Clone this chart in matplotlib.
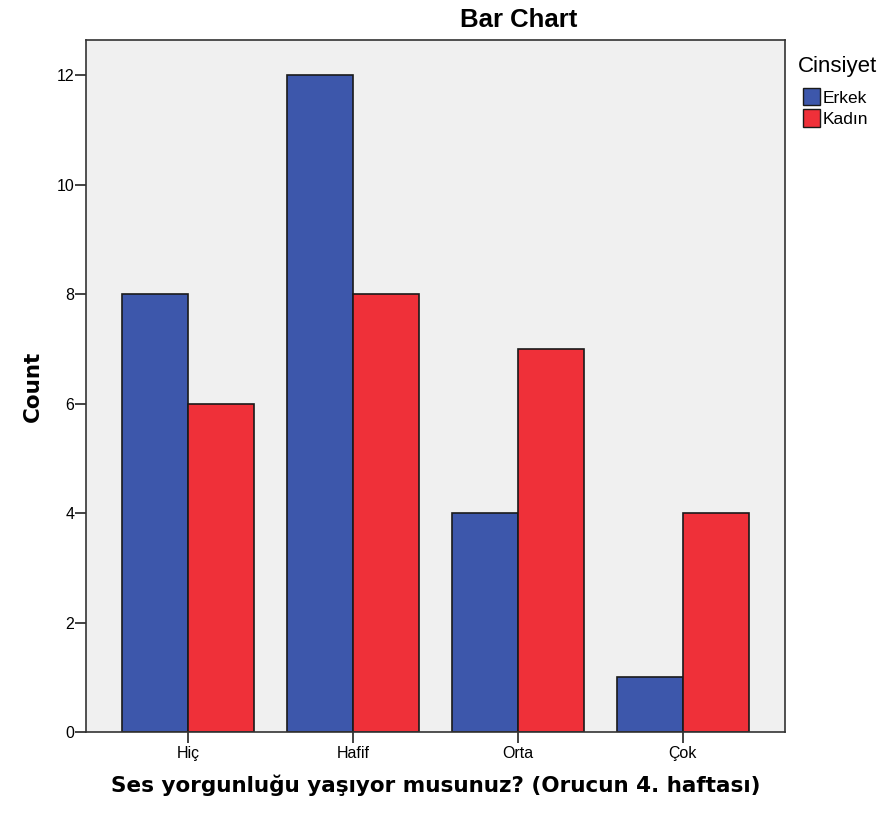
import matplotlib
matplotlib.use("Agg")
import matplotlib.pyplot as plt
import numpy as np
from matplotlib.patches import Rectangle

plt.rcParams['font.family'] = ['Liberation Sans', 'DejaVu Sans']

categories = ["Hiç", "Hafif", "Orta", "Çok"]
erkek = [8, 12, 4, 1]
kadin = [6, 8, 7, 4]
series_names = ["Erkek", "Kadın"]
yticks = [0, 2, 4, 6, 8, 10, 12]

blue = "#3D57AB"
red = "#EF3039"
edge = "#1a1a1a"

fig = plt.figure(figsize=(8.81, 8.17), dpi=100)
ax = fig.add_axes([0.0976, 0.104, 0.7934, 0.847])
ax.set_facecolor("#F0F0F0")

x = np.arange(len(categories))
w = 0.4
ax.bar(x - w / 2, erkek, width=w, color=blue, edgecolor=edge, linewidth=1.2, zorder=2)
ax.bar(x + w / 2, kadin, width=w, color=red, edgecolor=edge, linewidth=1.2, zorder=2)

ax.set_xlim(-0.62, 3.62)
ax.set_ylim(0, 12.64)
ax.set_xticks(x)
ax.set_xticklabels(categories, fontsize=11.5)
ax.set_yticks(yticks)
ax.set_yticklabels([str(v) for v in yticks], fontsize=11.5)
ax.tick_params(axis="y", direction="out", length=8, width=1.2, color="#222222", pad=0.5)
ax.tick_params(axis="x", direction="out", length=8, width=1.2, color="#222222", pad=2)

for s in ax.spines.values():
    s.set_color("#333333")
    s.set_linewidth(1.2)

# chart title
fig.text(0.589, 0.967, "Bar Chart", fontsize=18.5, fontweight="bold",
         ha="center", va="baseline")

ax.set_xlabel("Ses yorgunluğu yaşıyor musunuz? (Orucun 4. haftası)", fontsize=15.5,
              fontweight="bold", family="DejaVu Sans", labelpad=10)
ax.set_ylabel("Count", fontsize=15.5, fontweight="bold", family="DejaVu Sans", labelpad=10)

# legend drawn beside the plot
fig.text(0.9058, 0.9119, "Cinsiyet", fontsize=16, ha="left", va="baseline")
sq_w = 17 / 881
sq_h = 17 / 817
for i, (name, col) in enumerate(zip(series_names, [blue, red])):
    yc = (817 - (96.5 + 21.5 * i)) / 817
    fig.add_artist(Rectangle((0.9115, yc - sq_h / 2), sq_w, sq_h, transform=fig.transFigure,
                             facecolor=col, edgecolor=edge, linewidth=1.0))
    fig.text(0.9342, yc - 6.5 / 817, name, fontsize=12.5, ha="left", va="baseline")

fig.savefig("out.png", dpi=100)
